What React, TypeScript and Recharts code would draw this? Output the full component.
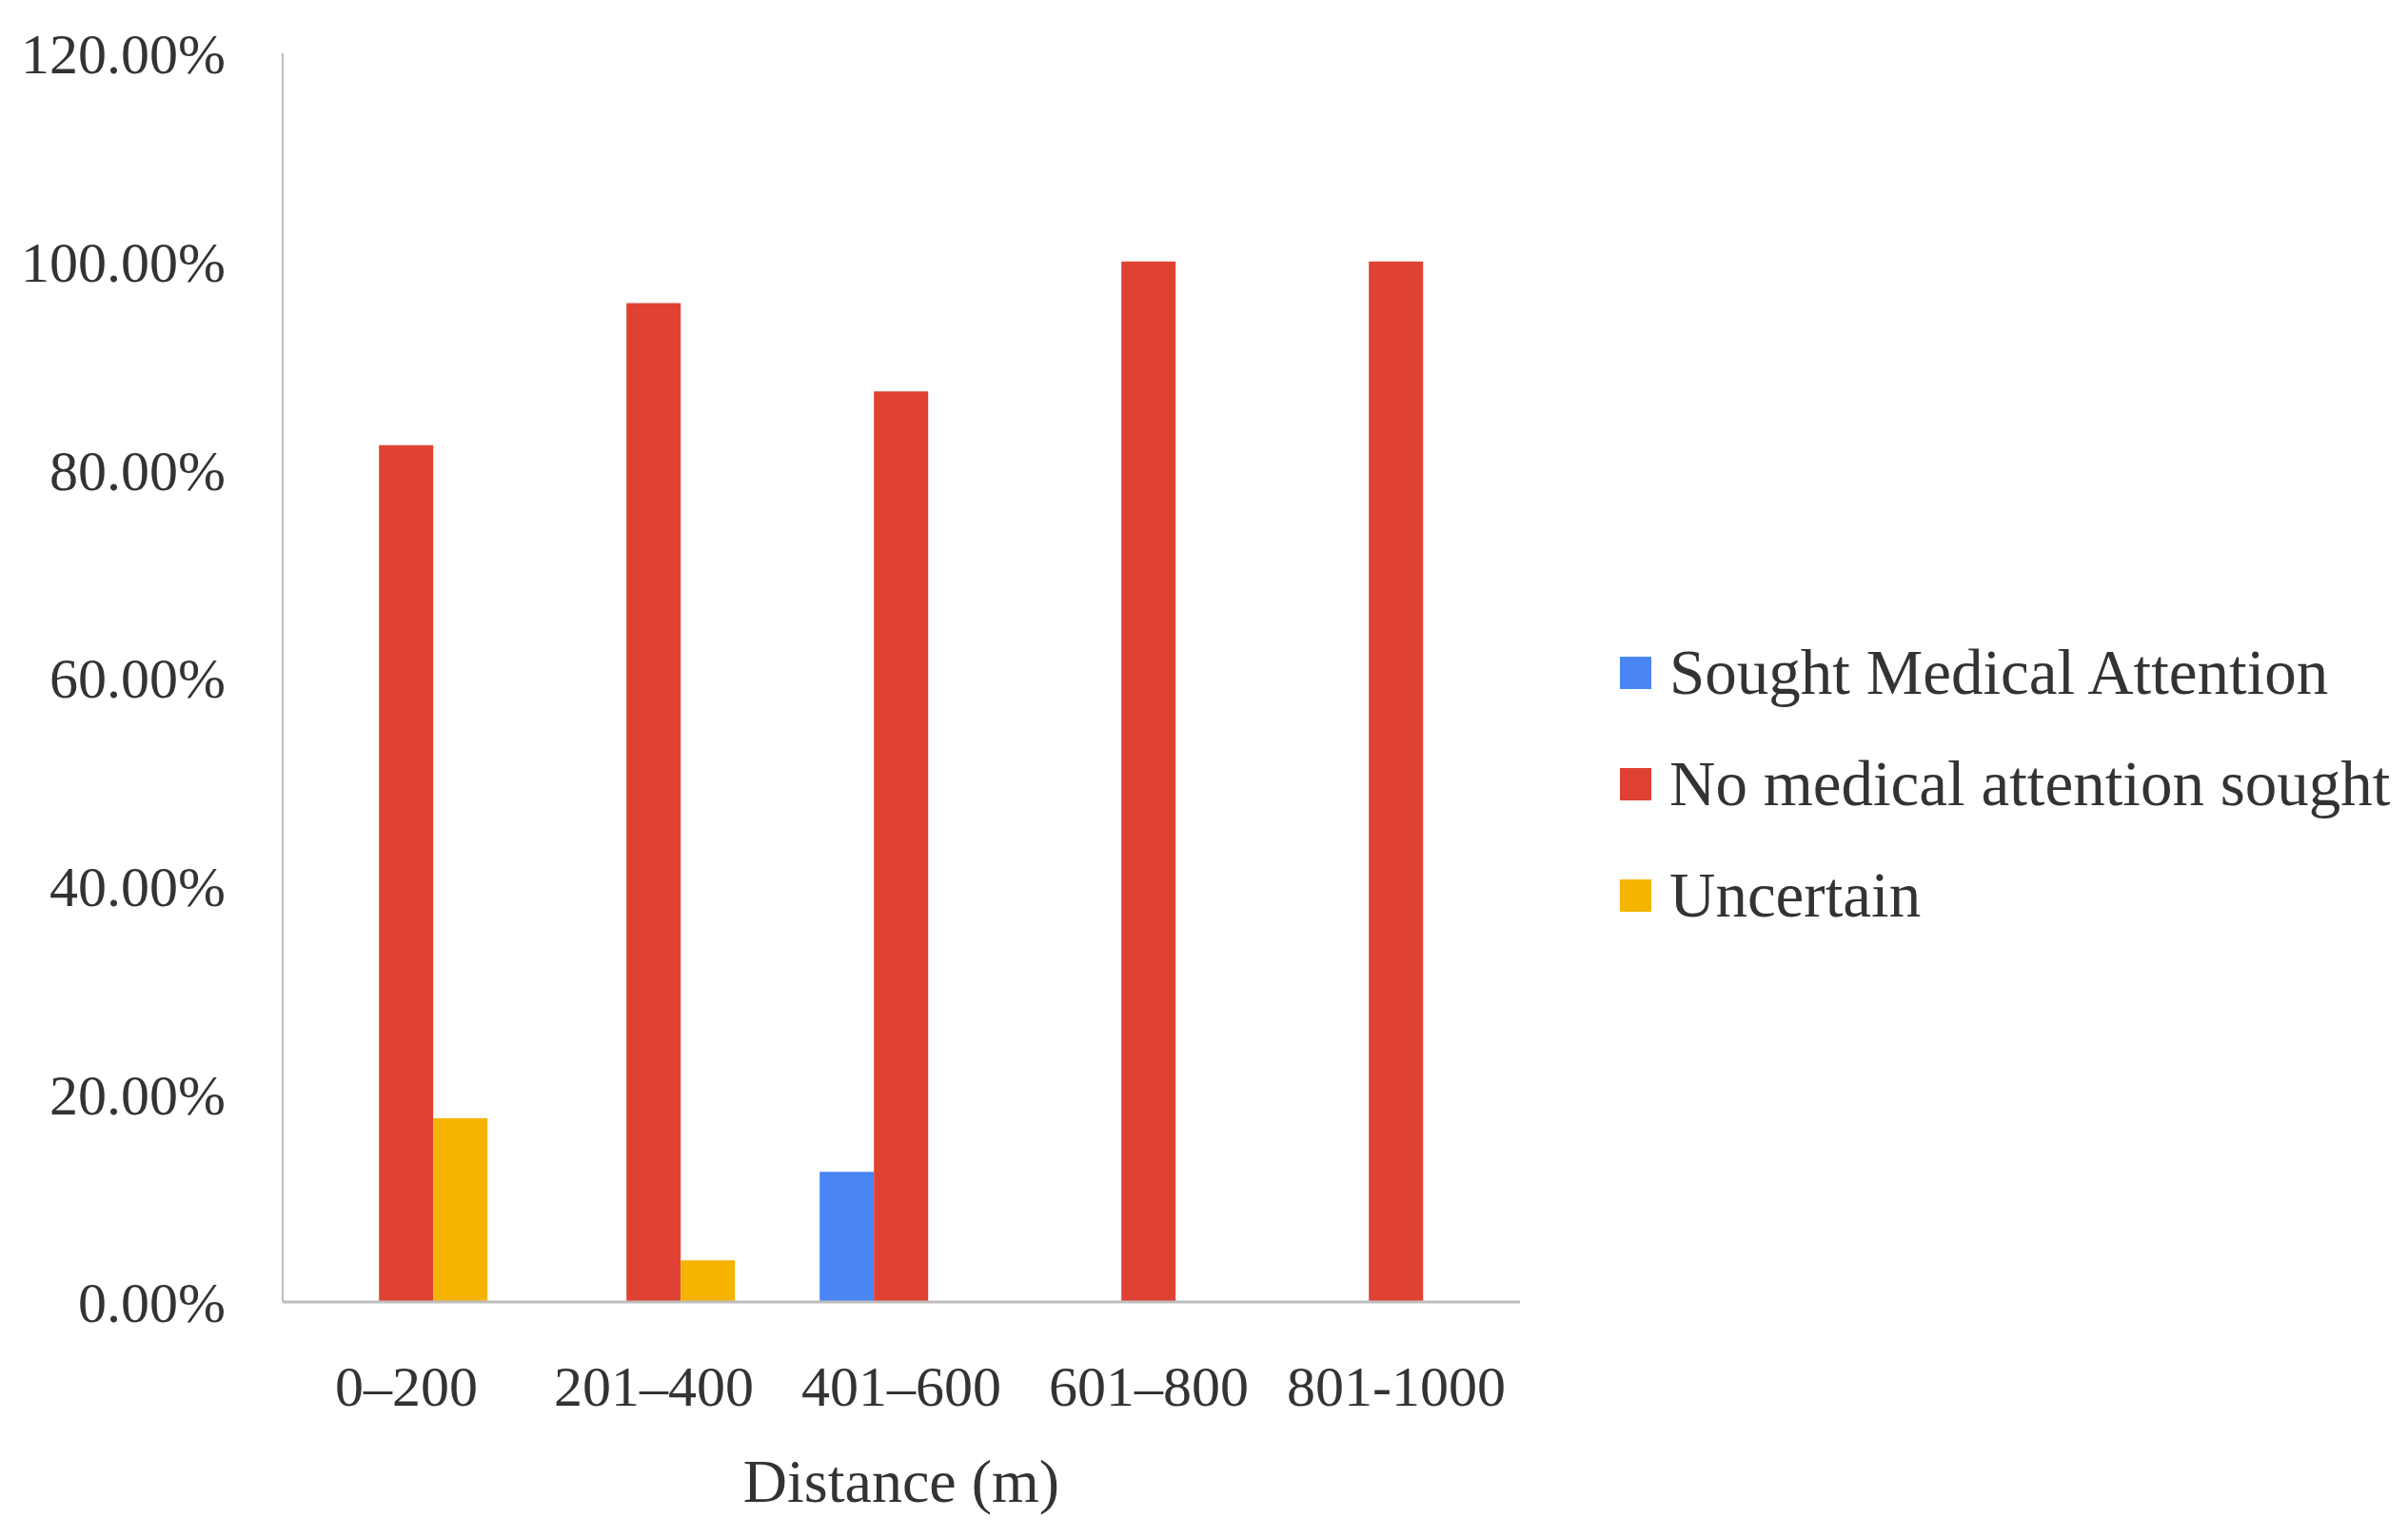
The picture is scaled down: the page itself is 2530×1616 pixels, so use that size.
import React from 'react'
import { BarChart, Bar, XAxis, YAxis, Legend, Label } from 'recharts'

const distances = ['0–200', '201–400', '401–600', '601–800', '801-1000']
const soughtAttention = [0, 0, 12.5, 0, 0]
const noAttention = [82.35, 96, 87.5, 100, 100]
const uncertain = [17.65, 4, 0, 0, 0]
const yTicks = [0, 20, 40, 60, 80, 100, 120]

const SERIES = [
  { key: 'sought', name: 'Sought Medical Attention', color: '#4a85f4' },
  { key: 'none', name: 'No medical attention sought', color: '#df4233' },
  { key: 'uncertain', name: 'Uncertain', color: '#f4b400' },
]

const FONT = '"Liberation Serif", "Times New Roman", serif'
const TEXT = '#333333'
const AXIS = '#bdbdbd'

const data = distances.map((range, i) => ({
  range,
  sought: soughtAttention[i],
  none: noAttention[i],
  uncertain: uncertain[i],
}))

// legend drawn by hand so the squares and spacing sit like the original
function LegendList() {
  return (
    <div style={{ fontFamily: FONT, fontSize: 67, color: TEXT }}>
      {SERIES.map((s) => (
        <div
          key={s.key}
          style={{ display: 'flex', alignItems: 'center', height: 117, whiteSpace: 'nowrap' }}
        >
          <span
            style={{
              display: 'inline-block',
              width: 33,
              height: 34,
              background: s.color,
              marginRight: 19,
            }}
          />
          <span>{s.name}</span>
        </div>
      ))}
    </div>
  )
}

export default function App() {
  return (
    <div style={{ position: 'absolute', left: 0, top: 0, background: '#fff' }}>
      <BarChart
        width={2530}
        height={1616}
        data={data}
        margin={{ top: 56, right: 933, left: 0, bottom: 18 }}
        barCategoryGap="17%"
        barGap={0}
      >
        <XAxis
          dataKey="range"
          height={230}
          tickLine={false}
          tickSize={0}
          tickMargin={66}
          stroke={AXIS}
          strokeWidth={3}
          tick={{ fontFamily: FONT, fontSize: 60, fill: TEXT }}
        >
          <Label
            value="Distance (m)"
            position="insideBottom"
            offset={20}
            style={{ fontFamily: FONT, fontSize: 64, fill: TEXT }}
          />
        </XAxis>
        <YAxis
          width={297}
          domain={[0, 120]}
          ticks={yTicks}
          interval={0}
          tickLine={false}
          tickSize={0}
          tickMargin={60}
          stroke={AXIS}
          strokeWidth={2}
          tickFormatter={(v: number) => `${v.toFixed(2)}%`}
          tick={{ fontFamily: FONT, fontSize: 60, fill: TEXT }}
        />
        {SERIES.map((s) => (
          <Bar key={s.key} dataKey={s.key} name={s.name} fill={s.color} isAnimationActive={false} />
        ))}
        <Legend
          layout="vertical"
          align="center"
          verticalAlign="middle"
          content={() => <LegendList />}
          wrapperStyle={{ left: 1702, top: 648, width: 'auto' }}
        />
      </BarChart>
    </div>
  )
}
